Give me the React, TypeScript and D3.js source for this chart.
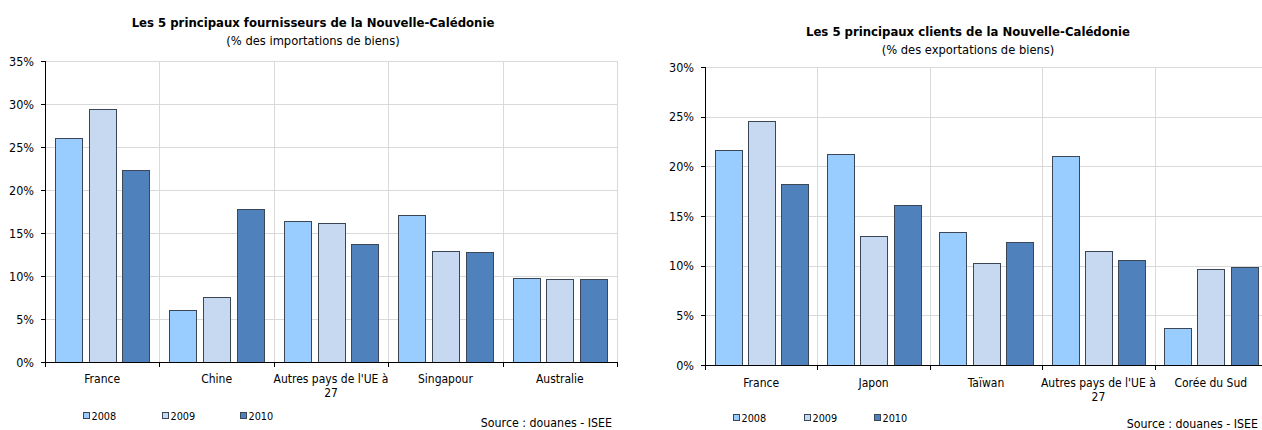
import React, { useEffect, useRef } from "react";
import * as d3 from "d3";

// Import chart (left): main suppliers, % of goods imports
const IMP_CATEGORIES = ["France", "Chine", "Autres pays de l'UE à 27", "Singapour", "Australie"];
const IMP_2008 = [26.1, 6.0, 16.4, 17.1, 9.8];
const IMP_2009 = [29.4, 7.6, 16.2, 12.9, 9.6];
const IMP_2010 = [22.3, 17.8, 13.7, 12.8, 9.7];
const IMP_TICKS = [0, 5, 10, 15, 20, 25, 30, 35];

// Export chart (right): main customers, % of goods exports
const EXP_CATEGORIES = ["France", "Japon", "Taïwan", "Autres pays de l'UE à 27", "Corée du Sud"];
const EXP_2008 = [21.6, 21.2, 13.4, 21.0, 3.7];
const EXP_2009 = [24.6, 13.0, 10.3, 11.5, 9.7];
const EXP_2010 = [18.2, 16.1, 12.4, 10.6, 9.9];
const EXP_TICKS = [0, 5, 10, 15, 20, 25, 30];

const YEARS = ["2008", "2009", "2010"];
const COLORS = ["#99CCFF", "#C6D9F1", "#4F81BD"];
const FONT = "'DejaVu Sans Condensed', 'DejaVu Sans', sans-serif";

type ChartSpec = {
  title: string;
  subtitle: string;
  categories: string[];
  series: number[][];
  ticks: number[];
  x0: number;
  x1: number;
  yTop: number;
  yBottom: number;
  titleX: number;
  titleY: number;
  labelY: number;
  legendX: number[];
  legendY: number;
  sourceX: number;
  sourceY: number;
  barPad: number;
};

const CHARTS: ChartSpec[] = [
  {
    title: "Les 5 principaux fournisseurs de la Nouvelle-Calédonie",
    subtitle: "(% des importations de biens)",
    categories: IMP_CATEGORIES,
    series: [IMP_2008, IMP_2009, IMP_2010],
    ticks: IMP_TICKS,
    x0: 45,
    x1: 617,
    yTop: 61,
    yBottom: 362,
    titleX: 313,
    titleY: 26.5,
    labelY: 382.5,
    legendX: [83, 162, 240],
    legendY: 416,
    sourceX: 612,
    sourceY: 427,
    barPad: 10,
  },
  {
    title: "Les 5 principaux clients de la Nouvelle-Calédonie",
    subtitle: "(% des exportations de biens)",
    categories: EXP_CATEGORIES,
    series: [EXP_2008, EXP_2009, EXP_2010],
    ticks: EXP_TICKS,
    x0: 705,
    x1: 1267,
    yTop: 67,
    yBottom: 365,
    titleX: 968,
    titleY: 35.5,
    labelY: 386.5,
    legendX: [733, 804, 874],
    legendY: 418,
    sourceX: 1258,
    sourceY: 427.5,
    barPad: 9.5,
  },
];

function drawChart(svg: d3.Selection<SVGSVGElement, unknown, null, undefined>, c: ChartSpec) {
  const g = svg.append("g").style("font-family", FONT);
  const yMax = c.ticks[c.ticks.length - 1];
  const y = d3.scaleLinear().domain([0, yMax]).range([c.yBottom, c.yTop]);
  const x = d3.scaleBand<string>().domain(c.categories).range([c.x0, c.x1]).padding(0);
  const catW = x.bandwidth();
  const xi = d3
    .scaleBand<string>()
    .domain(YEARS)
    .range([c.barPad, catW - c.barPad])
    .paddingInner(0.2)
    .paddingOuter(0);

  // horizontal gridlines
  g.selectAll("line.hgrid")
    .data(c.ticks.filter((t) => t > 0))
    .enter()
    .append("line")
    .attr("x1", c.x0)
    .attr("x2", c.x1)
    .attr("y1", (d) => Math.round(y(d)) + 0.5)
    .attr("y2", (d) => Math.round(y(d)) + 0.5)
    .attr("stroke", "#d9d9d9")
    .attr("stroke-width", 1);

  // vertical gridlines at category boundaries
  const bounds = c.categories.map((cat) => (x(cat) as number) + catW);
  g.selectAll("line.vgrid")
    .data(bounds)
    .enter()
    .append("line")
    .attr("x1", (d) => Math.round(d) + 0.5)
    .attr("x2", (d) => Math.round(d) + 0.5)
    .attr("y1", c.yTop)
    .attr("y2", c.yBottom)
    .attr("stroke", "#d9d9d9")
    .attr("stroke-width", 1);

  // bars
  c.series.forEach((vals, si) => {
    g.selectAll(`rect.s${si}`)
      .data(vals)
      .enter()
      .append("rect")
      .attr("x", (_d, i) => Math.round((x(c.categories[i]) as number) + (xi(YEARS[si]) as number)) + 0.5)
      .attr("y", (d) => Math.round(y(d)) + 0.5)
      .attr("width", Math.round(xi.bandwidth()))
      .attr("height", (d) => Math.round(c.yBottom) - Math.round(y(d)))
      .attr("fill", COLORS[si])
      .attr("stroke", "#3b4756")
      .attr("stroke-width", 1);
  });

  // y axis
  g.append("line")
    .attr("x1", c.x0 + 0.5)
    .attr("x2", c.x0 + 0.5)
    .attr("y1", c.yTop)
    .attr("y2", c.yBottom + 0.5)
    .attr("stroke", "#000");
  g.selectAll("line.ytick")
    .data(c.ticks)
    .enter()
    .append("line")
    .attr("x1", c.x0 - 4)
    .attr("x2", c.x0)
    .attr("y1", (d) => Math.round(y(d)) + 0.5)
    .attr("y2", (d) => Math.round(y(d)) + 0.5)
    .attr("stroke", "#000");
  g.selectAll("text.ylab")
    .data(c.ticks)
    .enter()
    .append("text")
    .attr("x", c.x0 - 11)
    .attr("y", (d) => y(d) + 4.5)
    .attr("text-anchor", "end")
    .attr("font-size", 12.5)
    .attr("fill", "#000")
    .text((d) => `${d}%`);

  // x axis
  g.append("line")
    .attr("x1", c.x0)
    .attr("x2", c.x1)
    .attr("y1", Math.round(c.yBottom) + 0.5)
    .attr("y2", Math.round(c.yBottom) + 0.5)
    .attr("stroke", "#000");
  g.selectAll("line.xtick")
    .data([c.x0, ...bounds])
    .enter()
    .append("line")
    .attr("x1", (d) => Math.round(d) + 0.5)
    .attr("x2", (d) => Math.round(d) + 0.5)
    .attr("y1", c.yBottom)
    .attr("y2", c.yBottom + 5)
    .attr("stroke", "#000");

  // category labels, wrapped to the category width
  c.categories.forEach((cat) => {
    const cx = (x(cat) as number) + catW / 2;
    const t = g
      .append("text")
      .attr("x", cx)
      .attr("y", c.labelY)
      .attr("text-anchor", "middle")
      .attr("font-size", 12)
      .attr("fill", "#000");
    const words = cat.split(" ");
    let line: string[] = [];
    let tspan = t.append("tspan").attr("x", cx).attr("dy", 0);
    words.forEach((w) => {
      line.push(w);
      tspan.text(line.join(" "));
      const node = tspan.node() as SVGTSpanElement;
      if (node.getComputedTextLength() > catW + 6 && line.length > 1) {
        line.pop();
        tspan.text(line.join(" "));
        line = [w];
        tspan = t.append("tspan").attr("x", cx).attr("dy", 14.5).text(w);
      }
    });
  });

  // titles
  g.append("text")
    .attr("x", c.titleX)
    .attr("y", c.titleY)
    .attr("text-anchor", "middle")
    .attr("font-size", 13)
    .attr("font-weight", "bold")
    .attr("fill", "#000")
    .text(c.title);
  g.append("text")
    .attr("x", c.titleX)
    .attr("y", c.titleY + 18.3)
    .attr("text-anchor", "middle")
    .attr("font-size", 12.8)
    .attr("fill", "#000")
    .text(c.subtitle);

  // legend
  YEARS.forEach((yr, i) => {
    g.append("rect")
      .attr("x", c.legendX[i] + 0.5)
      .attr("y", c.legendY - 3.5)
      .attr("width", 6)
      .attr("height", 6)
      .attr("fill", COLORS[i])
      .attr("stroke", "#3b4756")
      .attr("stroke-width", 1);
    g.append("text")
      .attr("x", c.legendX[i] + 8.5)
      .attr("y", c.legendY + 4)
      .attr("font-size", 10.8)
      .attr("fill", "#000")
      .text(yr);
  });

  // source note
  g.append("text")
    .attr("x", c.sourceX)
    .attr("y", c.sourceY)
    .attr("text-anchor", "end")
    .attr("font-size", 12.3)
    .attr("fill", "#000")
    .text("Source : douanes - ISEE");
}

export default function App() {
  const ref = useRef<SVGSVGElement | null>(null);

  useEffect(() => {
    if (!ref.current) return;
    const svg = d3.select(ref.current);
    svg.selectAll("*").remove();
    svg.append("rect").attr("width", 1262).attr("height", 430).attr("fill", "#fff");
    CHARTS.forEach((c) => drawChart(svg, c));
  }, []);

  return (
    <svg
      ref={ref}
      width={1262}
      height={430}
      style={{ position: "absolute", left: 0, top: 0, display: "block" }}
    />
  );
}
